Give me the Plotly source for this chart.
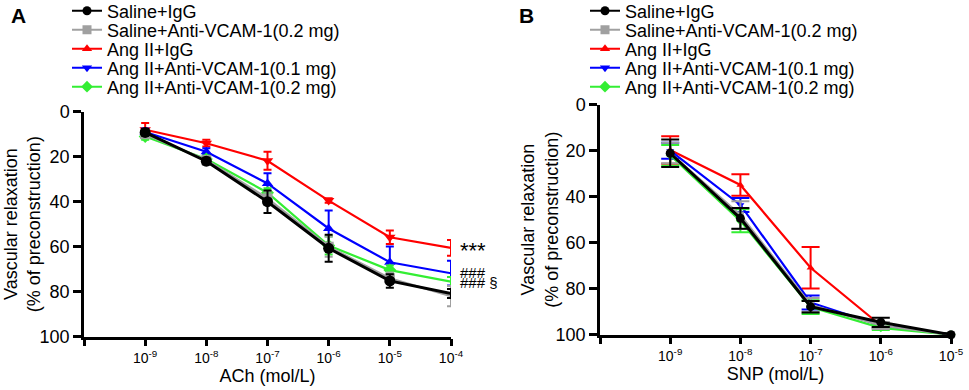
import plotly.graph_objects as go

W, H = 969, 390
FONT = "Arial, Liberation Sans, sans-serif"

groups = ["Saline+IgG", "Saline+Anti-VCAM-1(0.2 mg)", "Ang II+IgG",
          "Ang II+Anti-VCAM-1(0.1 mg)", "Ang II+Anti-VCAM-1(0.2 mg)"]
colors = ["#000000", "#a0a0a0", "#ff0000", "#0000ff", "#33ee33"]
legend_symbols = ["circle", "square", "triangle-up", "triangle-down", "diamond"]

# Panel A: ACh
ach_exp = [-9, -8, -7, -6, -5, -4]
ach_mean = {
    "Saline+IgG": [9.2, 22.0, 40.0, 60.7, 75.2, 80.8],
    "Saline+Anti-VCAM-1(0.2 mg)": [10.0, 21.5, 38.5, 60.0, 74.0, 82.0],
    "Ang II+IgG": [8.0, 14.0, 21.8, 39.5, 55.8, 60.5],
    "Ang II+Anti-VCAM-1(0.1 mg)": [9.0, 17.8, 31.9, 51.9, 66.9, 71.8],
    "Ang II+Anti-VCAM-1(0.2 mg)": [11.0, 21.0, 36.0, 59.5, 70.4, 75.5],
}
ach_err = {
    "Saline+IgG": [1.5, 1.5, 5.0, 6.0, 3.0, 2.0],
    "Saline+Anti-VCAM-1(0.2 mg)": [1.5, 1.5, 3.0, 4.5, 2.5, 4.5],
    "Ang II+IgG": [3.0, 1.5, 4.0, 1.0, 3.0, 3.5],
    "Ang II+Anti-VCAM-1(0.1 mg)": [1.5, 1.5, 4.5, 8.0, 7.0, 5.5],
    "Ang II+Anti-VCAM-1(0.2 mg)": [1.5, 1.5, 2.0, 4.0, 2.0, 2.0],
}
ach_symbols = ["circle", "square", "triangle-down", "triangle-up", "diamond"]

# Panel B: SNP
snp_exp = [-9, -8, -7, -6, -5]
snp_mean = {
    "Saline+IgG": [21.1, 49.4, 87.8, 94.6, 100.0],
    "Saline+Anti-VCAM-1(0.2 mg)": [21.0, 48.0, 87.0, 96.0, 100.0],
    "Ang II+IgG": [19.7, 34.9, 70.9, 96.0, 100.0],
    "Ang II+Anti-VCAM-1(0.1 mg)": [20.0, 43.6, 86.0, 96.0, 100.0],
    "Ang II+Anti-VCAM-1(0.2 mg)": [22.0, 50.5, 88.0, 97.0, 100.0],
}
snp_err = {
    "Saline+IgG": [6.0, 4.5, 2.5, 2.0, 0.5],
    "Saline+Anti-VCAM-1(0.2 mg)": [4.5, 6.0, 3.0, 1.5, 0.5],
    "Ang II+IgG": [6.0, 4.7, 9.0, 1.0, 0.5],
    "Ang II+Anti-VCAM-1(0.1 mg)": [3.5, 3.0, 3.0, 1.0, 0.5],
    "Ang II+Anti-VCAM-1(0.2 mg)": [4.5, 5.0, 3.0, 1.0, 0.5],
}
snp_symbols = ["circle", "square", "triangle-up", "triangle-down", "diamond"]

ach_ticks = [-10, -9, -8, -7, -6, -5, -4]
snp_ticks = [-10, -9, -8, -7, -6, -5]
y_ticks = [0, 20, 40, 60, 80, 100]
y_title = "Vascular relaxation<br>(% of preconstruction)"

sig_labels = ["***", "###", "### §"]
sig_y = [61.5, 71.4, 76.0]
sig_sizes = [22, 15, 15]


def tick_text(exps):
    return ["" if e == exps[0] else f"10<sup>{e}</sup>" for e in exps]


fig = go.Figure()

draw_order = [2, 3, 4, 1, 0]

# Panel A data
for i in draw_order:
    g = groups[i]
    fig.add_trace(go.Scatter(
        x=[10 ** e for e in ach_exp], y=ach_mean[g],
        error_y=dict(type="data", array=ach_err[g], color=colors[i], thickness=2, width=4),
        mode="lines+markers", line=dict(color=colors[i], width=3 if i == 0 else 2.2),
        marker=dict(symbol=ach_symbols[i], size=11 if i == 0 else 10, color=colors[i]),
        showlegend=False, cliponaxis=False, xaxis="x", yaxis="y"))

# Panel B data
for i in draw_order:
    g = groups[i]
    fig.add_trace(go.Scatter(
        x=[10 ** e for e in snp_exp], y=snp_mean[g],
        error_y=dict(type="data", array=snp_err[g], color=colors[i], thickness=2, width=9),
        mode="lines+markers", line=dict(color=colors[i], width=3 if i == 0 else 2.2),
        marker=dict(symbol=snp_symbols[i], size=9 if i == 0 else 7, color=colors[i]),
        showlegend=False, cliponaxis=False, xaxis="x2", yaxis="y2"))

# Legends (one legend per row so rows can be spaced like the original)
row_px = [11, 30, 49, 68, 87]
legend_left = [67, 585]
layout_legends = {}
n = 0
for p in range(2):
    for i, g in enumerate(groups):
        n += 1
        name = "legend" if n == 1 else f"legend{n}"
        fig.add_trace(go.Scatter(
            x=[None], y=[None], name=g, mode="lines+markers",
            line=dict(color=colors[i], width=2),
            marker=dict(symbol=legend_symbols[i], size=9, color=colors[i]),
            legend=name, xaxis="x" if p == 0 else "x2", yaxis="y" if p == 0 else "y2"))
        layout_legends[name] = dict(
            x=legend_left[p] / W, y=1 - row_px[i] / H, xanchor="left", yanchor="middle",
            bgcolor="rgba(0,0,0,0)", borderwidth=0, itemwidth=30,
            font=dict(family=FONT, size=18, color="#000"))

axis_common = dict(
    showline=True, linecolor="black", linewidth=2.5, ticks="outside", ticklen=8,
    tickwidth=2.5, tickcolor="black", showgrid=False, zeroline=False, automargin=False)

xtick_font = dict(family=FONT, size=14, color="#000")
ytick_font = dict(family=FONT, size=18, color="#000")
title_font = dict(family=FONT, size=18, color="#000")

yA = [(H - 336.7) / H, (H - 111.7) / H]
yB = [(H - 334.7) / H, (H - 104.7) / H]

fig.update_layout(
    width=W, height=H, margin=dict(l=0, r=0, t=0, b=0, autoexpand=False),
    paper_bgcolor="white", plot_bgcolor="white",
    font=dict(family=FONT, color="#000"),
    xaxis=dict(axis_common, type="log", range=[-10, -4], domain=[84 / W, 451 / W],
               tickvals=[10 ** e for e in ach_ticks], ticktext=tick_text(ach_ticks),
               tickfont=xtick_font, ticklen=7,
               title=dict(text="ACh (mol/L)", font=title_font, standoff=4),
               anchor="y"),
    yaxis=dict(axis_common, range=[100, 0], domain=yA,
               tickvals=y_ticks, tickfont=ytick_font, anchor="x"),
    xaxis2=dict(axis_common, type="log", range=[-10, -5], domain=[600 / W, 951 / W],
                tickvals=[10 ** e for e in snp_ticks], ticktext=tick_text(snp_ticks),
                tickfont=xtick_font, ticklen=7,
                title=dict(text="SNP (mol/L)", font=title_font, standoff=4),
                anchor="y2"),
    yaxis2=dict(axis_common, range=[100, 0], domain=yB,
                tickvals=y_ticks, tickfont=ytick_font, anchor="x2"),
    **layout_legends,
)

# y-axis titles
for xc, dom in [(22, yA), (540, yB)]:
    fig.add_annotation(x=xc / W, y=(dom[0] + dom[1]) / 2, xref="paper", yref="paper",
                       text=y_title, textangle=-90, showarrow=False,
                       xanchor="center", yanchor="middle", font=title_font)

for lab, yv, fs in zip(sig_labels, sig_y, sig_sizes):
    fig.add_annotation(x=ach_exp[-1], y=yv, xref="x", yref="y", text=lab, showarrow=False,
                       xanchor="left", yanchor="middle", xshift=7,
                       font=dict(family=FONT, size=fs, color="#000"))

for lab, px in [("A", 9), ("B", 517)]:
    fig.add_annotation(x=px / W, y=1 - 15.5 / H, xref="paper", yref="paper", text=f"<b>{lab}</b>",
                       showarrow=False, xanchor="left", yanchor="middle",
                       font=dict(family=FONT, size=21, color="#000"))

fig.write_html("out.html", config={"displayModeBar": False},
               post_script="document.body.style.margin='0';")
